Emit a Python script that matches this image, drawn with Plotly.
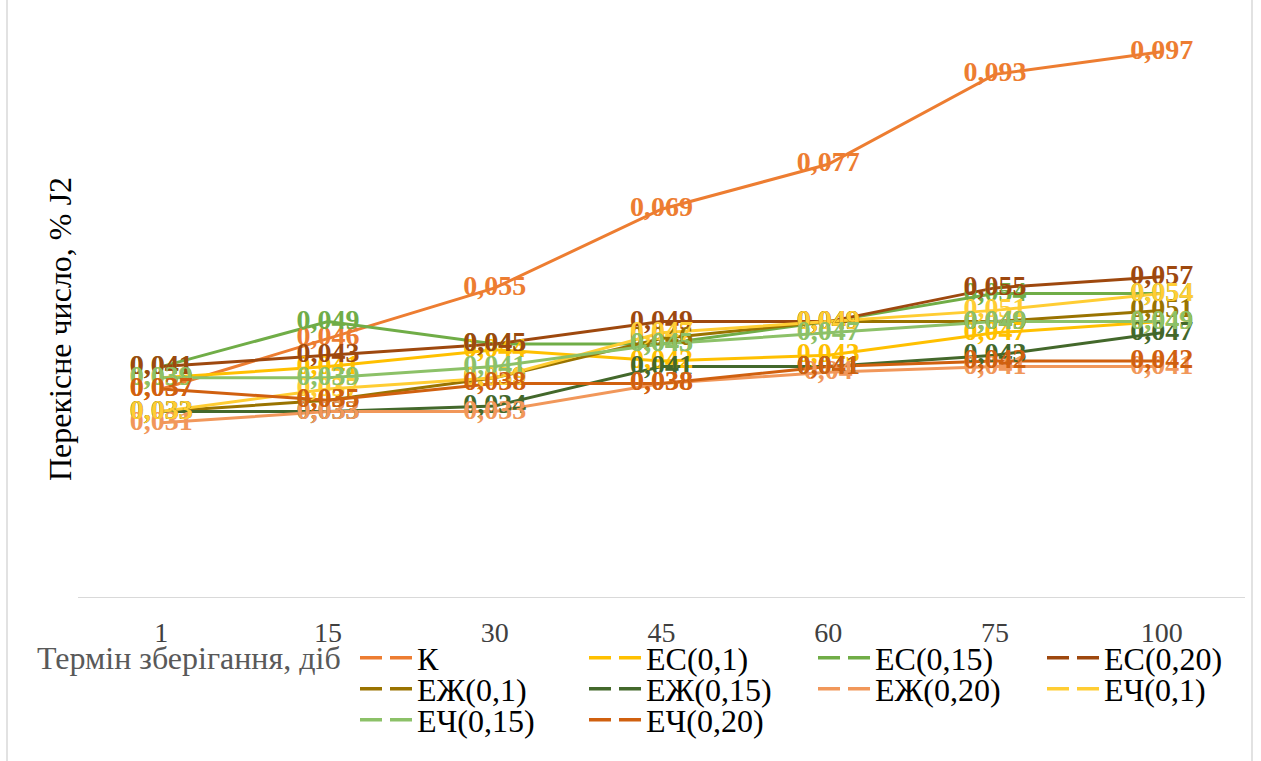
import plotly.graph_objects as go

# Storage time, days (category axis)
days = ["1", "15", "30", "45", "60", "75", "100"]

# Peroxide value, % J2, per sample
series_names = ["К", "ЕС(0,1)", "ЕС(0,15)", "ЕС(0,20)", "ЕЖ(0,1)",
                "ЕЖ(0,15)", "ЕЖ(0,20)", "ЕЧ(0,1)", "ЕЧ(0,15)", "ЕЧ(0,20)"]

k_vals      = [0.037, 0.046, 0.055, 0.069, 0.077, 0.093, 0.097]
es01_vals   = [0.039, 0.041, 0.044, 0.042, 0.043, 0.047, 0.049]
es015_vals  = [0.041, 0.049, 0.045, 0.045, 0.049, 0.054, 0.054]
es020_vals  = [0.041, 0.043, 0.045, 0.049, 0.049, 0.055, 0.057]
ezh01_vals  = [0.033, 0.035, 0.039, 0.046, 0.049, 0.049, 0.051]
ezh015_vals = [0.033, 0.033, 0.034, 0.041, 0.041, 0.043, 0.047]
ezh020_vals = [0.031, 0.033, 0.033, 0.038, 0.040, 0.041, 0.041]
ech01_vals  = [0.033, 0.037, 0.039, 0.047, 0.049, 0.051, 0.054]
ech015_vals = [0.039, 0.039, 0.041, 0.045, 0.047, 0.049, 0.049]
ech020_vals = [0.037, 0.035, 0.038, 0.038, 0.041, 0.042, 0.042]

series_values = [k_vals, es01_vals, es015_vals, es020_vals, ezh01_vals,
                 ezh015_vals, ezh020_vals, ech01_vals, ech015_vals, ech020_vals]

colors = ["#ED7D31", "#FFC000", "#70AD47", "#9E480E", "#997300",
          "#43682B", "#F1975A", "#FFCD33", "#8CC168", "#D0600F"]

# legend row each series key sits in (four keys per row)
legend_rows = ["legend", "legend", "legend", "legend",
               "legend2", "legend2", "legend2", "legend2",
               "legend3", "legend3"]

SERIF = "Liberation Serif"


def fmt(v):
    # Excel "General" style with a decimal comma
    return ("%g" % v).replace(".", ",")


fig = go.Figure()

# lines first
for name, vals, col in zip(series_names, series_values, colors):
    fig.add_trace(go.Scatter(
        x=days, y=vals, mode="lines", name=name,
        line=dict(color=col, width=3), showlegend=False, hoverinfo="skip"))

# value labels on top of all lines
for name, vals, col in zip(series_names, series_values, colors):
    fig.add_trace(go.Scatter(
        x=days, y=vals, mode="text", text=[fmt(v) for v in vals],
        textposition="middle center",
        textfont=dict(family=SERIF, size=28, color=col, weight="bold"),
        showlegend=False, hoverinfo="skip"))

# legend entries with dashed keys
for name, col, lg in zip(series_names, colors, legend_rows):
    fig.add_trace(go.Scatter(
        x=[None], y=[None], mode="lines", name=name, legend=lg,
        line=dict(color=col, width=3.5, dash="22px,8px"), showlegend=True))

PL, PW, PT, PH = 78, 1167, 35, 562


def px_x(p):
    return (p - PL) / PW


def px_y(p):
    return (PT + PH - p) / PH


def legend_row(center_y):
    return dict(orientation="h", x=px_x(355), xanchor="left",
                y=px_y(center_y), yanchor="middle",
                font=dict(family=SERIF, size=32, color="#000000"),
                entrywidth=162, entrywidthmode="pixels",
                itemwidth=52, tracegroupgap=0,
                bgcolor="rgba(0,0,0,0)")


fig.update_layout(
    width=1261, height=761,
    font=dict(family=SERIF),
    margin=dict(l=PL, r=1261 - PL - PW, t=PT, b=761 - PT - PH, autoexpand=False),
    paper_bgcolor="white", plot_bgcolor="white",
    xaxis=dict(type="category", range=[-0.5, 6.5], showgrid=False, zeroline=False,
               showline=True, linecolor="#D9D9D9", linewidth=1, ticks="",
               tickfont=dict(family=SERIF, size=28, color="#404040"),
               ticklabelstandoff=10, fixedrange=True),
    yaxis=dict(range=[0, 0.1], showgrid=False, zeroline=False, showline=False,
               showticklabels=False, ticks="", fixedrange=True),
    legend=legend_row(658),
    legend2=legend_row(689),
    legend3=legend_row(720),
    annotations=[
        dict(text="Перекісне число, % J2", textangle=-90, showarrow=False,
             xref="paper", yref="paper", x=px_x(60), y=px_y(329),
             xanchor="center", yanchor="middle",
             font=dict(family=SERIF, size=32, color="#000000")),
        dict(text="Термін зберігання, діб", showarrow=False,
             xref="paper", yref="paper", x=px_x(189), y=px_y(658),
             xanchor="center", yanchor="middle",
             font=dict(family=SERIF, size=32, color="#595959")),
    ],
    shapes=[
        dict(type="line", xref="paper", yref="paper",
             x0=px_x(7), x1=px_x(7), y0=px_y(0), y1=px_y(761),
             line=dict(color="#D9D9D9", width=1.5)),
        dict(type="line", xref="paper", yref="paper",
             x0=px_x(1252), x1=px_x(1252), y0=px_y(0), y1=px_y(761),
             line=dict(color="#D9D9D9", width=1.5)),
    ],
    showlegend=True,
)

fig.write_html("out.html", config={"displayModeBar": False})
